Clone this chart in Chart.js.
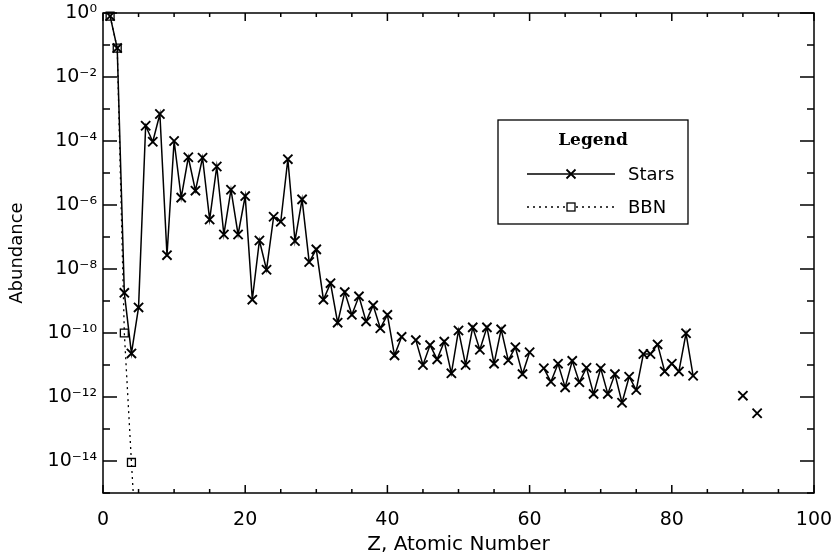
<!DOCTYPE html>
<html>
<head>
<meta charset="utf-8">
<script src="https://cdn.jsdelivr.net/npm/chart.js@4.4.1/dist/chart.umd.min.js"></script>
<style>
  html, body { margin: 0; padding: 0; background: #fff; }
</style>
</head>
<body>
<canvas id="myChart" width="834" height="557"></canvas>
<script>
// Abundances (relative to hydrogen). null = no point, line breaks.
const starsZ = [
  1, 2, 3, 4, 5, 6, 7, 8, 9, 10,
  11, 12, 13, 14, 15, 16, 17, 18, 19, 20,
  21, 22, 23, 24, 25, 26, 27, 28, 29, 30,
  31, 32, 33, 34, 35, 36, 37, 38, 39, 40,
  41, 42, 43, 44, 45, 46, 47, 48, 49, 50,
  51, 52, 53, 54, 55, 56, 57, 58, 59, 60,
  61, 62, 63, 64, 65, 66, 67, 68, 69, 70,
  71, 72, 73, 74, 75, 76, 77, 78, 79, 80,
  81, 82, 83, 84, 90, 91, 92
];
const starsAbundance = [
  0.8, 0.08, 1.8e-9, 2.3e-11, 6.3e-10, 3e-4, 9.5e-5, 7e-4, 2.7e-8, 1e-4,
  1.7e-6, 3.1e-5, 2.8e-6, 3e-5, 3.5e-7, 1.6e-5, 1.2e-7, 3e-6, 1.2e-7, 1.9e-6,
  1.1e-9, 7.8e-8, 9.5e-9, 4.3e-7, 3e-7, 2.7e-5, 7.5e-8, 1.5e-6, 1.65e-8, 4.1e-8,
  1.1e-9, 3.6e-9, 2.1e-10, 1.9e-9, 3.7e-10, 1.4e-9, 2.3e-10, 7.3e-10, 1.4e-10, 3.7e-10,
  2e-11, 7.6e-11, null, 6e-11, 1e-11, 4.2e-11, 1.5e-11, 5.4e-11, 5.5e-12, 1.2e-10,
  1e-11, 1.5e-10, 3e-11, 1.5e-10, 1.1e-11, 1.3e-10, 1.4e-11, 3.6e-11, 5.2e-12, 2.5e-11,
  null, 7.9e-12, 3e-12, 1.1e-11, 2e-12, 1.35e-11, 2.9e-12, 8.2e-12, 1.25e-12, 7.9e-12,
  1.25e-12, 5.2e-12, 6.6e-13, 4.3e-12, 1.65e-12, 2.2e-11, 2.2e-11, 4.4e-11, 6.3e-12, 1.1e-11,
  6.3e-12, 9.8e-11, 4.6e-12, null, 1.1e-12, null, 3.1e-13
];
const bbnZ = [1, 2, 3, 4, 5];
const bbnAbundance = [0.8, 0.08, 1e-10, 9e-15, 1.5e-18];

const xTickValues = [0, 20, 40, 60, 80, 100];
const xMinorTicks = [5, 10, 15, 25, 30, 35, 45, 50, 55, 65, 70, 75, 85, 90, 95];
const yTickValues = [1, 1e-2, 1e-4, 1e-6, 1e-8, 1e-10, 1e-12, 1e-14];
const yTickLabels = ["10\u2070", "10\u207B\u00B2", "10\u207B\u2074", "10\u207B\u2076",
                     "10\u207B\u2078", "10\u207B\u00B9\u2070", "10\u207B\u00B9\u00B2", "10\u207B\u00B9\u2074"];
const yMinorTicks = [1e-1, 1e-3, 1e-5, 1e-7, 1e-9, 1e-11, 1e-13, 1e-15];

const FONT = "'DejaVu Sans', sans-serif";

// box, inward ticks on all four sides, and the legend box
const framePlugin = {
  id: "frame",
  afterDraw(chart) {
    const { ctx, chartArea: a, scales } = chart;
    const x = scales.x, y = scales.y;
    ctx.save();
    ctx.strokeStyle = "#000";
    ctx.lineWidth = 1.5;
    ctx.strokeRect(a.left, a.top, a.right - a.left, a.bottom - a.top);

    ctx.beginPath();
    const xTick = (v, len) => {
      const px = x.getPixelForValue(v);
      ctx.moveTo(px, a.bottom); ctx.lineTo(px, a.bottom - len);
      ctx.moveTo(px, a.top); ctx.lineTo(px, a.top + len);
    };
    const yTick = (v, len) => {
      const py = y.getPixelForValue(v);
      ctx.moveTo(a.left, py); ctx.lineTo(a.left + len, py);
      ctx.moveTo(a.right, py); ctx.lineTo(a.right - len, py);
    };
    xTickValues.forEach(v => xTick(v, 8));
    xMinorTicks.forEach(v => xTick(v, 4));
    yTickValues.forEach(v => yTick(v, 14));
    yMinorTicks.forEach(v => yTick(v, 7));
    ctx.stroke();

    // legend
    const lx = 498, ly = 120, lw = 190, lh = 104;
    ctx.lineWidth = 1.3;
    ctx.strokeRect(lx, ly, lw, lh);
    ctx.fillStyle = "#000";
    ctx.textAlign = "center";
    ctx.textBaseline = "middle";
    ctx.font = "bold 17px 'DejaVu Serif', serif";
    ctx.fillText("Legend", lx + lw / 2, ly + 21);

    const sx0 = 527, sx1 = 615, mx = 571;
    const row1 = ly + 54, row2 = ly + 87;
    ctx.lineWidth = 1.5;
    ctx.beginPath();
    ctx.moveTo(sx0, row1); ctx.lineTo(sx1, row1);
    ctx.stroke();
    ctx.lineWidth = 1.8;
    ctx.beginPath();
    ctx.moveTo(mx - 4.5, row1 - 4.5); ctx.lineTo(mx + 4.5, row1 + 4.5);
    ctx.moveTo(mx + 4.5, row1 - 4.5); ctx.lineTo(mx - 4.5, row1 + 4.5);
    ctx.stroke();

    ctx.lineWidth = 1.3;
    ctx.setLineDash([2, 4]);
    ctx.beginPath();
    ctx.moveTo(sx0, row2); ctx.lineTo(mx - 5, row2);
    ctx.moveTo(mx + 5, row2); ctx.lineTo(sx1, row2);
    ctx.stroke();
    ctx.setLineDash([]);
    ctx.strokeRect(mx - 4, row2 - 4, 8, 8);

    ctx.textAlign = "left";
    ctx.font = "18px " + FONT;
    ctx.fillText("Stars", 628, row1 + 1);
    ctx.fillText("BBN", 628, row2 + 1);
    ctx.restore();
  }
};

const toPoints = (xs, ys) => xs.map((v, i) => ({ x: v, y: ys[i] }));

const ctx = document.getElementById("myChart").getContext("2d");
const myChart = new Chart(ctx, {
  type: "line",
  data: {
    datasets: [
      {
        label: "Stars",
        data: toPoints(starsZ, starsAbundance),
        borderColor: "#000",
        borderWidth: 1.5,
        pointStyle: "crossRot",
        pointRadius: 6.5,
        pointBorderWidth: 1.9,
        pointBorderColor: "#000",
        pointBackgroundColor: "#000",
        spanGaps: false,
        tension: 0,
        fill: false,
      },
      {
        label: "BBN",
        data: toPoints(bbnZ, bbnAbundance),
        borderColor: "#000",
        borderWidth: 1.3,
        borderDash: [2, 4],
        pointStyle: "rect",
        pointRadius: 5.6,
        pointBorderWidth: 1.3,
        pointBorderColor: "#000",
        pointBackgroundColor: "rgba(0,0,0,0)",
        tension: 0,
        fill: false,
        clip: { left: false, top: false, right: false, bottom: 0 },
      },
    ],
  },
  options: {
    responsive: false,
    animation: false,
    layout: { padding: { top: 13, right: 20, left: 0, bottom: 0 } },
    plugins: {
      legend: { display: false },
      tooltip: { enabled: false },
    },
    scales: {
      x: {
        type: "linear",
        min: 0,
        max: 100,
        afterBuildTicks: (s) => { s.ticks = xTickValues.map(v => ({ value: v })); },
        afterFit: (s) => {
          s.height = 64;
          s.paddingLeft = 0;
          s.paddingRight = 0;
        },
        grid: { display: false, drawTicks: false },
        border: { display: false },
        ticks: { color: "#000", font: { family: FONT, size: 19 }, padding: 16, maxRotation: 0 },
        title: {
          display: true,
          text: "Z, Atomic Number",
          color: "#000",
          font: { family: FONT, size: 20 },
          padding: { top: 0, bottom: 0 },
        },
      },
      y: {
        type: "logarithmic",
        min: 1e-15,
        max: 1,
        afterBuildTicks: (s) => { s.ticks = yTickValues.map(v => ({ value: v })); },
        afterFit: (s) => {
          s.width = 103;
          s.paddingTop = 0;
          s.paddingBottom = 0;
        },
        grid: { display: false, drawTicks: false },
        border: { display: false },
        ticks: {
          color: "#000",
          font: { family: FONT, size: 19 },
          padding: 6,
          callback: (v, i) => yTickLabels[i],
        },
        title: {
          display: true,
          text: "Abundance",
          color: "#000",
          font: { family: FONT, size: 18 },
          padding: { top: 7, bottom: 0 },
        },
      },
    },
  },
  plugins: [framePlugin],
});
</script>
</body>
</html>
